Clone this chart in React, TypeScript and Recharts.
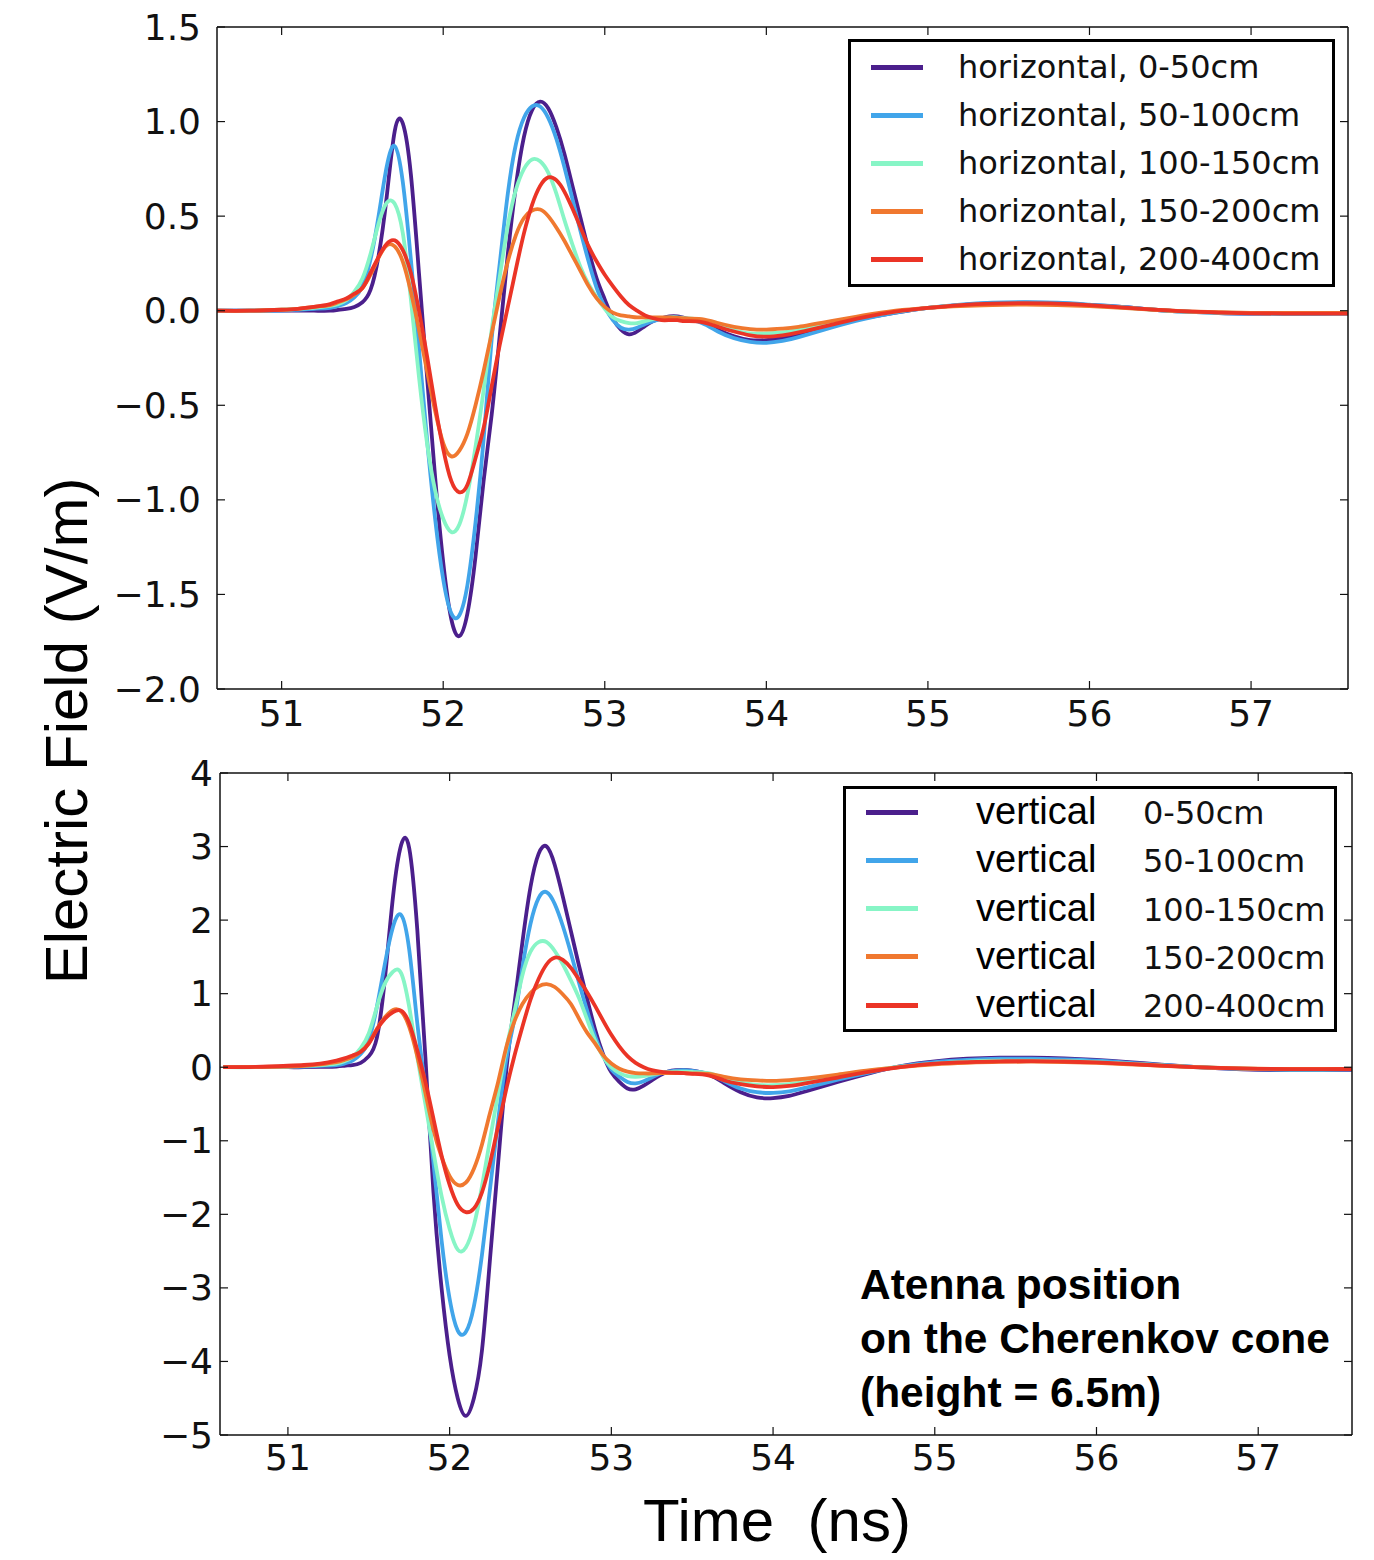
import React from "react";
import { LineChart, Line, XAxis, YAxis } from "recharts";

// time samples (ns)
const time = [
  50.6, 50.8, 51.0, 51.1, 51.2,
  51.3, 51.35, 51.4, 51.45, 51.5, 51.55, 51.6, 51.65, 51.7, 51.75,
  51.8, 51.85, 51.9, 51.95, 52.0, 52.05, 52.1, 52.15, 52.2, 52.25,
  52.3, 52.35, 52.4, 52.45, 52.5, 52.55, 52.6, 52.65, 52.7, 52.75,
  52.8, 52.85, 52.9, 52.95, 53.0, 53.05, 53.1, 53.15, 53.2, 53.25,
  53.3, 53.35, 53.4, 53.45, 53.5,
  53.6, 53.7, 53.8, 53.9, 54.0, 54.1, 54.2,
  54.4, 54.6, 54.8, 55.0, 55.2, 55.4, 55.6, 55.8, 56.0, 56.2, 56.4, 56.6, 56.8, 57.0, 57.2, 57.4, 57.6,
];

// horizontal polarisation (V/m)
const h0to50 = [
  0, 0, 0, 0, 0,
  0, 0.005, 0.01, 0.02, 0.045, 0.11, 0.29, 0.6, 0.95, 0.99,
  0.72, 0.2, -0.35, -0.88, -1.33, -1.63, -1.72, -1.6, -1.3, -0.9,
  -0.55, -0.13, 0.3, 0.66, 0.92, 1.06, 1.105, 1.07, 0.97, 0.83,
  0.66, 0.49, 0.32, 0.17, 0.06, -0.04, -0.1, -0.125, -0.11, -0.08,
  -0.055, -0.04, -0.03, -0.03, -0.04,
  -0.06, -0.1, -0.135, -0.155, -0.155, -0.145, -0.125,
  -0.08, -0.04, -0.01, 0.015, 0.03, 0.04, 0.042, 0.04, 0.03, 0.02, 0.005, -0.005, -0.012, -0.015, -0.016, -0.016, -0.015,
];
const h50to100 = [
  0, 0, 0, 0.005, 0.01,
  0.015, 0.025, 0.04, 0.07, 0.13, 0.27, 0.5, 0.76, 0.87, 0.68,
  0.27, -0.2, -0.68, -1.1, -1.42, -1.6, -1.61, -1.45, -1.12, -0.68,
  -0.15, 0.25, 0.62, 0.88, 1.02, 1.08, 1.08, 1.02, 0.91, 0.76,
  0.59, 0.42, 0.26, 0.12, 0.02, -0.05, -0.09, -0.1, -0.09, -0.07,
  -0.055, -0.045, -0.04, -0.04, -0.045,
  -0.065, -0.11, -0.145, -0.165, -0.17, -0.16, -0.14,
  -0.09, -0.045, -0.01, 0.015, 0.032, 0.042, 0.045, 0.042, 0.032, 0.02, 0.005, -0.005, -0.012, -0.015, -0.016, -0.016, -0.015,
];
const h100to150 = [
  0, 0, 0.005, 0.01, 0.015,
  0.025, 0.035, 0.055, 0.1, 0.17, 0.3, 0.46, 0.57, 0.565, 0.41,
  0.06, -0.35, -0.7, -0.95, -1.1, -1.17, -1.13, -0.97, -0.72, -0.42,
  -0.1, 0.18, 0.45, 0.64, 0.75, 0.8, 0.79, 0.73, 0.62, 0.48,
  0.35, 0.23, 0.14, 0.07, 0.01, -0.035, -0.055, -0.065, -0.065, -0.055,
  -0.045, -0.04, -0.035, -0.035, -0.04,
  -0.05, -0.08, -0.105, -0.12, -0.12, -0.115, -0.1,
  -0.065, -0.03, -0.005, 0.015, 0.028, 0.035, 0.038, 0.035, 0.027, 0.017, 0.005, -0.005, -0.01, -0.013, -0.014, -0.014, -0.014,
];
const h150to200 = [
  0, 0, 0.005, 0.01, 0.02,
  0.03, 0.045, 0.06, 0.085, 0.12, 0.19, 0.28, 0.345, 0.34, 0.26,
  0.1, -0.1, -0.32, -0.53, -0.7, -0.77, -0.74, -0.65, -0.5, -0.32,
  -0.12, 0.08, 0.26, 0.4, 0.49, 0.53, 0.535, 0.5, 0.44, 0.37,
  0.29, 0.21, 0.13, 0.065, 0.02, -0.01, -0.025, -0.03, -0.035, -0.035,
  -0.035, -0.035, -0.035, -0.038, -0.04,
  -0.045, -0.065, -0.085, -0.097, -0.1, -0.095, -0.085,
  -0.055, -0.025, 0, 0.015, 0.025, 0.03, 0.032, 0.03, 0.024, 0.015, 0.005, -0.003, -0.008, -0.011, -0.012, -0.012, -0.012,
];
const h200to400 = [
  0, 0, 0.005, 0.01, 0.02,
  0.035, 0.05, 0.065, 0.09, 0.12, 0.2, 0.285, 0.353, 0.372, 0.32,
  0.2, 0, -0.24, -0.5, -0.73, -0.9, -0.96, -0.92, -0.78, -0.62,
  -0.4, -0.18, 0.02, 0.22, 0.41, 0.56, 0.66, 0.705, 0.69, 0.63,
  0.54, 0.44, 0.34, 0.26, 0.19, 0.13, 0.075, 0.03, 0, -0.025,
  -0.04, -0.05, -0.05, -0.05, -0.055,
  -0.06, -0.085, -0.11, -0.13, -0.137, -0.13, -0.115,
  -0.075, -0.035, -0.005, 0.015, 0.03, 0.038, 0.04, 0.038, 0.03, 0.018, 0.006, -0.004, -0.01, -0.014, -0.015, -0.015, -0.015,
];

// vertical polarisation (V/m)
const v0to50 = [
  0, 0, 0, 0, 0.005,
  0.01, 0.02, 0.03, 0.06, 0.15, 0.4, 1.21, 2.32, 3.02, 2.98,
  1.87, 0.14, -1.7, -3.0, -3.92, -4.5, -4.74, -4.5, -3.85, -2.6,
  -1.3, -0.05, 0.85, 1.7, 2.45, 2.9, 3.0, 2.75, 2.32, 1.85,
  1.38, 0.93, 0.51, 0.17, -0.07, -0.2, -0.29, -0.3, -0.25, -0.18,
  -0.11, -0.06, -0.04, -0.035, -0.045,
  -0.1, -0.22, -0.34, -0.41, -0.42, -0.39, -0.33,
  -0.2, -0.08, 0.02, 0.08, 0.115, 0.13, 0.13, 0.12, 0.1, 0.07, 0.035, 0.005, -0.02, -0.035, -0.04, -0.04, -0.035,
];
const v50to100 = [
  0, 0, 0.005, 0.01, 0.02,
  0.03, 0.05, 0.09, 0.18, 0.37, 0.82, 1.41, 1.91, 2.07, 1.6,
  0.6, -0.3, -1.3, -2.35, -3.15, -3.58, -3.6, -3.25, -2.55, -1.65,
  -0.72, 0.1, 0.65, 1.35, 1.95, 2.3, 2.38, 2.22, 1.92, 1.55,
  1.15, 0.77, 0.42, 0.15, -0.03, -0.13, -0.2, -0.22, -0.19, -0.14,
  -0.09, -0.06, -0.045, -0.04, -0.05,
  -0.09, -0.19, -0.29, -0.34, -0.35, -0.33, -0.28,
  -0.17, -0.07, 0.015, 0.07, 0.1, 0.115, 0.115, 0.105, 0.088, 0.06, 0.03, 0.003, -0.017, -0.03, -0.035, -0.035, -0.03,
];
const v100to150 = [
  0, 0, 0.01, 0.02, 0.03,
  0.05, 0.08, 0.14, 0.26, 0.46, 0.82, 1.14, 1.3, 1.28, 0.82,
  0.14, -0.5, -1.15, -1.75, -2.2, -2.48, -2.45, -2.15, -1.62, -0.98,
  -0.35, 0.25, 0.75, 1.25, 1.57, 1.7, 1.7, 1.58, 1.4, 1.18,
  0.94, 0.65, 0.36, 0.14, 0, -0.08, -0.12, -0.13, -0.12, -0.1,
  -0.08, -0.065, -0.06, -0.06, -0.065,
  -0.08, -0.15, -0.21, -0.24, -0.245, -0.23, -0.2,
  -0.12, -0.05, 0.01, 0.05, 0.075, 0.088, 0.09, 0.085, 0.07, 0.05, 0.025, 0.003, -0.013, -0.024, -0.028, -0.028, -0.025,
];
const v150to200 = [
  0, 0.005, 0.01, 0.02, 0.04,
  0.07, 0.1, 0.14, 0.21, 0.33, 0.52, 0.68, 0.78, 0.76, 0.55,
  0.15, -0.35, -0.85, -1.22, -1.48, -1.6, -1.57, -1.38, -1.05, -0.62,
  -0.2, 0.27, 0.62, 0.86, 1.01, 1.1, 1.13, 1.09, 0.99, 0.86,
  0.66, 0.47, 0.32, 0.16, 0.05, -0.02, -0.06, -0.08, -0.085, -0.085,
  -0.08, -0.08, -0.08, -0.08, -0.085,
  -0.09, -0.13, -0.165, -0.18, -0.185, -0.175, -0.155,
  -0.1, -0.04, 0.005, 0.04, 0.06, 0.072, 0.075, 0.07, 0.058, 0.04, 0.02, 0.002, -0.01, -0.02, -0.024, -0.024, -0.022,
];
const v200to400 = [
  0, 0.005, 0.02, 0.03, 0.05,
  0.09, 0.12, 0.16, 0.21, 0.32, 0.51, 0.66, 0.75, 0.77, 0.6,
  0.23, -0.2, -0.7, -1.2, -1.6, -1.87, -1.97, -1.92, -1.7, -1.3,
  -0.8, -0.3, 0.15, 0.55, 0.92, 1.2, 1.4, 1.49, 1.46, 1.35,
  1.19, 1.02, 0.83, 0.63, 0.44, 0.28, 0.15, 0.06, 0, -0.04,
  -0.06, -0.07, -0.075, -0.08, -0.09,
  -0.11, -0.18, -0.23, -0.26, -0.27, -0.255, -0.22,
  -0.14, -0.06, 0.005, 0.05, 0.07, 0.08, 0.082, 0.078, 0.065, 0.045, 0.022, 0.002, -0.012, -0.022, -0.026, -0.026, -0.024,
];

const ranges = ["0-50cm", "50-100cm", "100-150cm", "150-200cm", "200-400cm"];
const colors = ["#4b1f8c", "#41a5ea", "#87f5c6", "#f0782f", "#eb3426"];
const timeTicks = [51, 52, 53, 54, 55, 56, 57];
const hTicks = [-2, -1.5, -1, -0.5, 0, 0.5, 1, 1.5];
const vTicks = [-5, -4, -3, -2, -1, 0, 1, 2, 3, 4];

const hSeries = [h0to50, h50to100, h100to150, h150to200, h200to400];
const vSeries = [v0to50, v50to100, v100to150, v150to200, v200to400];

const toRows = (series: number[][]) =>
  time.map((t, i) => {
    const row: Record<string, number> = { t };
    series.forEach((s, k) => (row["s" + k] = s[i]));
    return row;
  });

const hRows = toRows(hSeries);
const vRows = toRows(vSeries);

const TICK_FONT = "'DejaVu Sans', sans-serif";
const ARIAL = "'Liberation Sans', Arial, sans-serif";
const INK = "#111";
const FRAME = 2; // thickness reserved for the mirrored top / right axes

const fmtH = (v: number) => (v < 0 ? "\u2212" + Math.abs(v).toFixed(1) : v.toFixed(1));
const fmtV = (v: number) => (v < 0 ? "\u2212" + Math.abs(v) : String(v));

function makeLeftTick(fmt: (v: number) => string, gap: number) {
  return (p: any) => (
    <g>
      <line x1={p.x} x2={p.x + 8} y1={p.y} y2={p.y} stroke={INK} strokeWidth={1.2} />
      <text x={p.x - gap} y={p.y} textAnchor="end" dominantBaseline="central"
        fontFamily={TICK_FONT} fontSize={36} fill={INK}>
        {fmt(p.payload.value)}
      </text>
    </g>
  );
}

function makeBottomTick(dy: number) {
  return (p: any) => (
    <g>
      <line x1={p.x} x2={p.x} y1={p.y} y2={p.y - 8} stroke={INK} strokeWidth={1.2} />
      <text x={p.x} y={p.y + dy} textAnchor="middle" dominantBaseline="central"
        fontFamily={TICK_FONT} fontSize={36} fill={INK}>
        {p.payload.value}
      </text>
    </g>
  );
}

const rightTick = (p: any) => (
  <line x1={p.x} x2={p.x - 8} y1={p.y} y2={p.y} stroke={INK} strokeWidth={1.2} />
);
const topTick = (p: any) => (
  <line x1={p.x} x2={p.x} y1={p.y} y2={p.y + 8} stroke={INK} strokeWidth={1.2} />
);

interface PanelProps {
  rows: Record<string, number>[];
  top: number;
  height: number;
  plotTop: number;
  plotBottom: number;
  plotLeft: number;
  plotRight: number;
  xDomain: [number, number];
  yDomain: [number, number];
  yTicks: number[];
  fmt: (v: number) => string;
  yGap: number;
  xDy: number;
}

function Panel(props: PanelProps) {
  const { rows, top, height, plotTop, plotBottom, plotLeft, plotRight } = props;
  const axisLine = { stroke: INK, strokeWidth: 1.5 };
  return (
    <div style={{ position: "absolute", left: 0, top }}>
      <LineChart
        width={1374}
        height={height}
        data={rows}
        margin={{ top: plotTop - top - FRAME, right: 1374 - plotRight - FRAME, bottom: 0, left: 0 }}
      >
        <XAxis
          dataKey="t"
          type="number"
          domain={props.xDomain}
          ticks={timeTicks}
          allowDataOverflow
          height={top + height - plotBottom}
          axisLine={axisLine}
          tickLine={false}
          tickSize={0}
          tickMargin={0}
          tick={makeBottomTick(props.xDy)}
        />
        <XAxis
          xAxisId="top"
          orientation="top"
          dataKey="t"
          type="number"
          domain={props.xDomain}
          ticks={timeTicks}
          allowDataOverflow
          height={FRAME}
          axisLine={axisLine}
          tickLine={false}
          tickSize={0}
          tickMargin={0}
          tick={topTick}
        />
        <YAxis
          type="number"
          domain={props.yDomain}
          ticks={props.yTicks}
          allowDataOverflow
          width={plotLeft}
          axisLine={axisLine}
          tickLine={false}
          tickSize={0}
          tickMargin={0}
          tick={makeLeftTick(props.fmt, props.yGap)}
        />
        <YAxis
          yAxisId="right"
          orientation="right"
          type="number"
          domain={props.yDomain}
          ticks={props.yTicks}
          allowDataOverflow
          width={FRAME}
          axisLine={axisLine}
          tickLine={false}
          tickSize={0}
          tickMargin={0}
          tick={rightTick}
        />
        {colors.map((c, k) => (
          <Line
            key={k}
            dataKey={"s" + k}
            type="natural"
            stroke={c}
            strokeWidth={3.8}
            dot={false}
            activeDot={false}
            isAnimationActive={false}
          />
        ))}
      </LineChart>
    </div>
  );
}

function LegendBox(props: {
  left: number; top: number; width: number; height: number;
  rowTop: number; step: number; sampleLeft: number; vertical: boolean;
}) {
  const { left, top, width, height, rowTop, step, sampleLeft, vertical } = props;
  return (
    <div
      style={{
        position: "absolute", left, top, width, height,
        border: "3px solid #000", boxSizing: "border-box", background: "#fff",
      }}
    >
      {ranges.map((r, k) => {
        const cy = rowTop + k * step - top;
        return (
          <React.Fragment key={r}>
            <div style={{
              position: "absolute", left: sampleLeft - left, top: cy - 3.5,
              width: 52, height: 5, background: colors[k],
            }} />
            {vertical ? (
              <>
                <div style={{
                  position: "absolute", left: 973 - left, top: cy - 28, height: 52, lineHeight: "52px",
                  fontFamily: ARIAL, fontSize: 38, color: "#000", whiteSpace: "nowrap",
                }}>vertical</div>
                <div style={{
                  position: "absolute", left: 1140 - left, top: cy - 22, height: 44, lineHeight: "44px",
                  fontFamily: TICK_FONT, fontSize: 32, color: INK, whiteSpace: "nowrap",
                }}>{r}</div>
              </>
            ) : (
              <div style={{
                position: "absolute", left: 955 - left, top: cy - 23, height: 44, lineHeight: "44px",
                fontFamily: TICK_FONT, fontSize: 32, color: INK, whiteSpace: "nowrap",
              }}>{"horizontal, " + r}</div>
            )}
          </React.Fragment>
        );
      })}
    </div>
  );
}

export default function App() {
  return (
    <div style={{ position: "absolute", left: 0, top: 0, width: 1374, height: 1560, background: "#fff" }}>
      <Panel
        rows={hRows}
        top={0}
        height={760}
        plotTop={27}
        plotBottom={689}
        plotLeft={217}
        plotRight={1348}
        xDomain={[50.6, 57.6]}
        yDomain={[-2, 1.5]}
        yTicks={hTicks}
        fmt={fmtH}
        yGap={16}
        xDy={24}
      />
      <Panel
        rows={vRows}
        top={740}
        height={760}
        plotTop={773}
        plotBottom={1435}
        plotLeft={220}
        plotRight={1352}
        xDomain={[50.58, 57.58]}
        yDomain={[-5, 4]}
        yTicks={vTicks}
        fmt={fmtV}
        yGap={7}
        xDy={22}
      />
      <LegendBox left={848} top={39} width={487} height={248} rowTop={65} step={48} sampleLeft={868} vertical={false} />
      <LegendBox left={843} top={786} width={494} height={246} rowTop={810} step={48.3} sampleLeft={863} vertical={true} />
      <div style={{
        position: "absolute", left: 860, top: 1258, fontFamily: ARIAL, fontWeight: 700,
        fontSize: 42.5, lineHeight: "54px", color: "#000", whiteSpace: "nowrap",
      }}>
        <div>Atenna position</div>
        <div>on the Cherenkov cone</div>
        <div>(height = 6.5m)</div>
      </div>
      <div style={{
        position: "absolute", left: 66, top: 731, transform: "translate(-50%, -50%) rotate(-90deg)",
        fontFamily: ARIAL, fontSize: 60, color: "#000", whiteSpace: "nowrap",
      }}>Electric Field (V/m)</div>
      <div style={{
        position: "absolute", left: 777, top: 1520, transform: "translate(-50%, -50%)",
        fontFamily: ARIAL, fontSize: 60, color: "#000", whiteSpace: "pre",
      }}>{"Time  (ns)"}</div>
    </div>
  );
}
